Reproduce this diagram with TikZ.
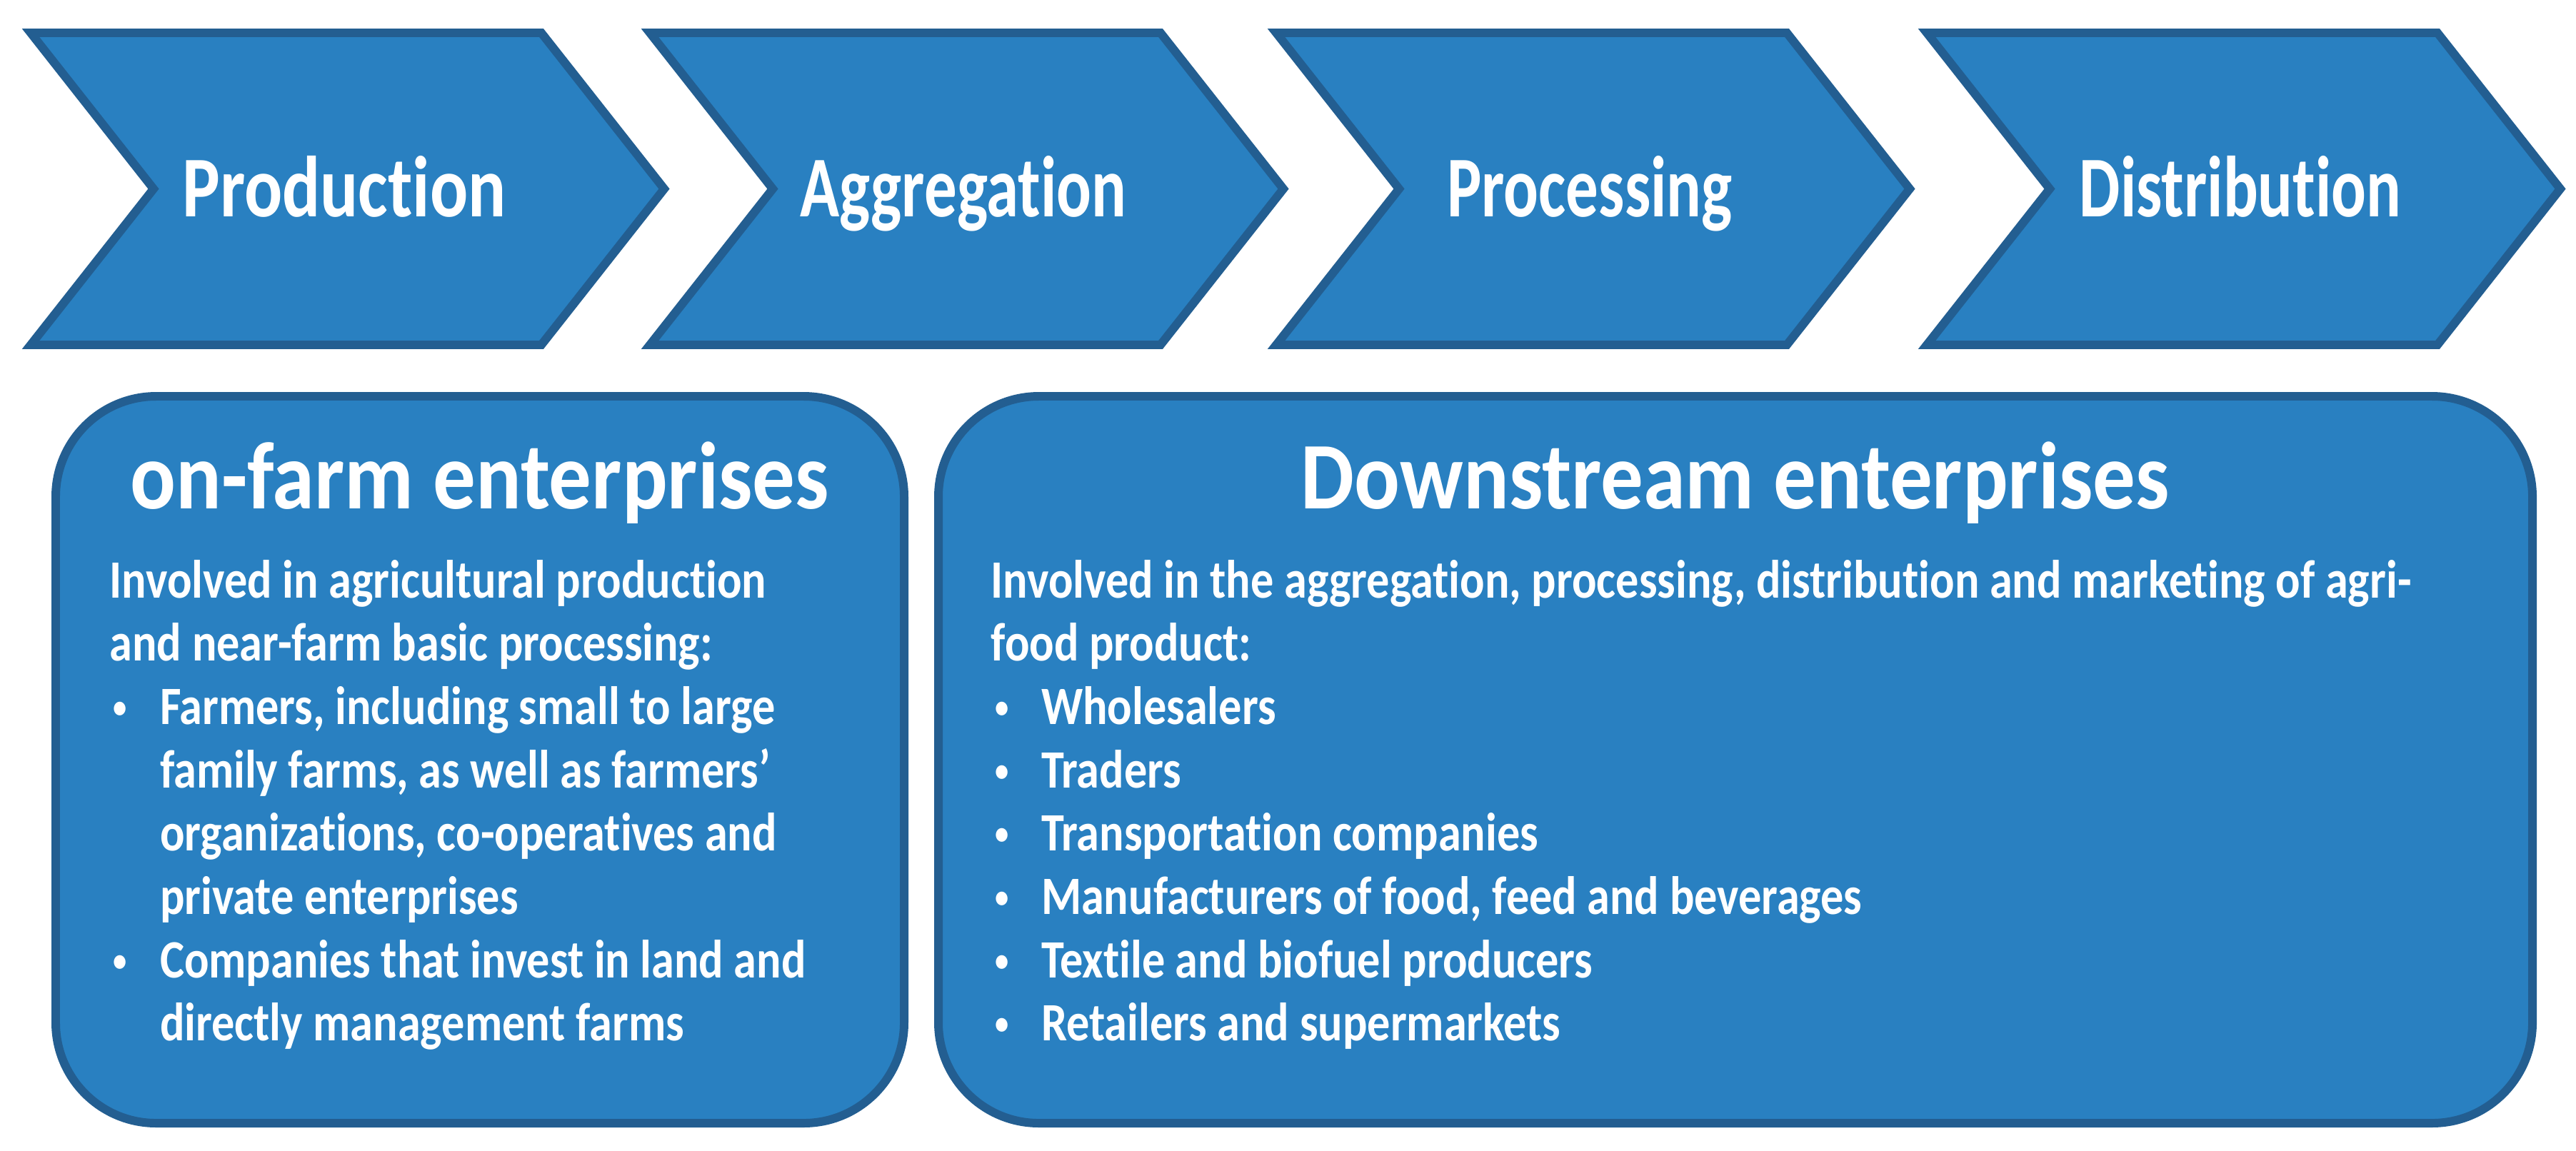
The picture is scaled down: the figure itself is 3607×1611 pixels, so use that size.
\documentclass[tikz,border=0pt]{standalone}
\usepackage{fontspec}
\setmainfont{Carlito}[FakeStretch = 0.85, Ligatures = NoCommon]
\newfontfamily\stagefont{Carlito}[FakeStretch = 0.75, Ligatures = NoCommon]
\newfontfamily\titlefont{Carlito}[FakeStretch = 0.89, Ligatures = NoCommon]
\definecolor{chainfill}{RGB}{41,128,193}
\definecolor{chainedge}{RGB}{35,94,145}
\newcommand{\bulletline}[1]{\makebox[20pt][l]{\hspace{1.5pt}\raisebox{0.12em}{\scalebox{0.6}{\textbullet}}}#1}
\newcommand{\hangline}[1]{\hspace*{20pt}#1}

\begin{document}
\begin{tikzpicture}[x = 0.01cm, y = -0.01cm,
        stage/.style = {fill = chainfill, draw = chainedge, line width = 3.4pt},
        stagetext/.style = {anchor = base, text = white, font = \stagefont\fontsize{34.5}{40}\selectfont\bfseries},
        panel/.style = {fill = chainfill, draw = chainedge, line width = 3.4pt, rounded corners = 40pt},
        paneltitle/.style = {anchor = base, text = white, font = \titlefont\fontsize{38}{44}\selectfont\bfseries},
        paneltext/.style = {anchor = base west, text = white, inner sep = 0pt, font = \fontsize{21.5}{25}\selectfont\bfseries}]
    \useasboundingbox (0,0) rectangle (3607,1611);
    % value chain stages
    \foreach \x/\stageid/\stagename/\sx in {35/prod/Production/1.09, 902/aggr/Aggregation/1, 1779/proc/Processing/1, 2690/dist/Distribution/1} {
        \draw[stage] (\x+8,46) -- ++(715,0) -- ++(172,218.5) -- ++(-172,218.5) -- ++(-715,0) -- ++(172,-218.5) -- cycle;
        \node[stagetext] (\stageid) at (\x+447,303) {\scalebox{\sx}[1]{\stagename}};
    }
    % enterprise panels
    \draw[panel] (78,555) rectangle (1266,1573);
    \draw[panel] (1314,555) rectangle (3546,1573);
    \node[paneltitle] (onfarm) at (672,712) {on-farm enterprises};
    \node[paneltitle] (downstream) at (2430,712) {Downstream enterprises};
    \foreach \t [count = \i from 0] in {{Involved in agricultural production}, {and near-farm basic processing:},
            {\bulletline{Farmers, including small to large}}, {\hangline{family farms, as well as farmers’}},
            {\hangline{organizations, co-operatives and}}, {\hangline{private enterprises}},
            {\bulletline{Companies that invest in land and}}, {\hangline{directly management farms}}}
        \node[paneltext] (farm\i) at (153,837+88.7*\i) {\t};
    \foreach \t [count = \i from 0] in {{Involved in the aggregation, processing, distribution and marketing of agri-}, {food product:},
            {\bulletline{Wholesalers}}, {\bulletline{Traders}}, {\bulletline{Transportation companies}},
            {\bulletline{Manufacturers of food, feed and beverages}}, {\bulletline{Textile and biofuel producers}},
            {\bulletline{Retailers and supermarkets}}}
        \node[paneltext] (down\i) at (1387,837+88.7*\i) {\t};
\end{tikzpicture}
\end{document}
